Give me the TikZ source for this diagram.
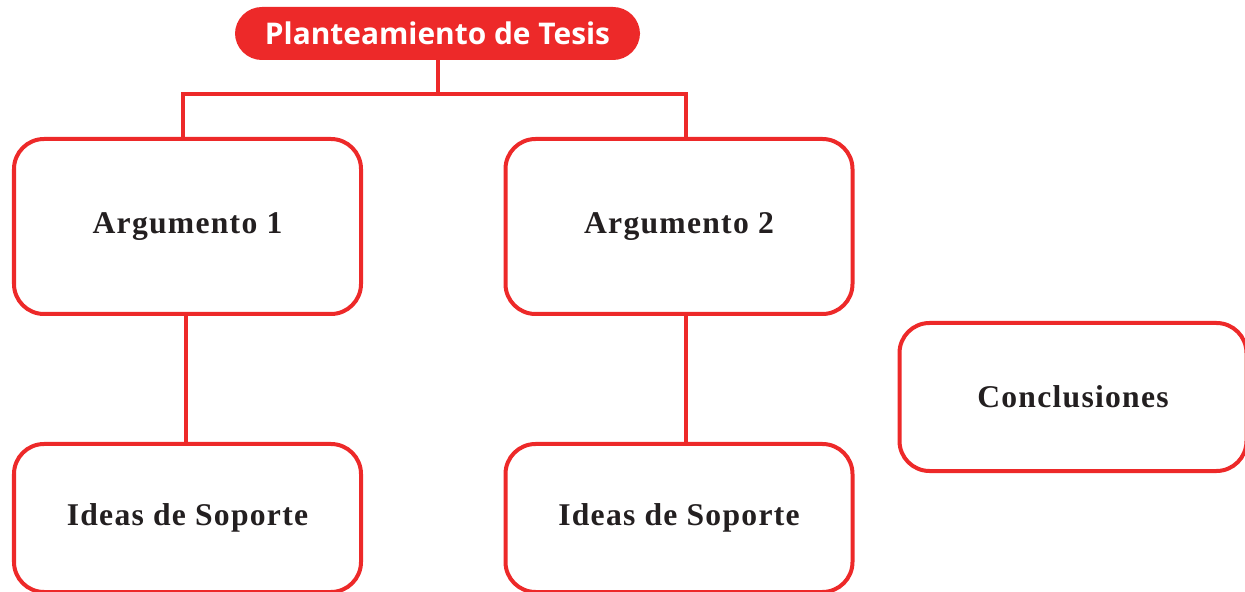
\documentclass[tikz,border=0pt]{standalone}
\usepackage{fontspec}
\setmainfont{Liberation Serif}
\newfontfamily\titlefont{Open Sans}
\newfontfamily\boxfont[LetterSpace=4]{Liberation Serif}
\usetikzlibrary{positioning}
\definecolor{tesisred}{RGB}{237,41,41}
\definecolor{boxtext}{RGB}{35,31,32}

\begin{document}
\begin{tikzpicture}[auto, node distance=2cm and 2cm, line width=0.08cm]

  % Define styles
  \tikzstyle{title} = [rectangle, rounded corners=0.5cm, minimum width=8.02cm, minimum height=0.98cm, text centered, draw=tesisred, fill=tesisred, text=white, font=\titlefont\bfseries\fontsize{17}{20}\selectfont]
  \tikzstyle{box} = [rectangle, rounded corners=0.6cm, minimum width=6.94cm, minimum height=3.5cm, text centered, draw=tesisred, fill=white, text=boxtext, font=\boxfont\bfseries\fontsize{18}{22}\selectfont]
  \tikzstyle{lowbox} = [box, minimum height=2.96cm]
  \tikzstyle{link} = [draw=tesisred]

  \useasboundingbox (0,0) rectangle (24.9,-11.84);

  % Place nodes
  \node [title] (tesis) at (8.75,-0.67) {Planteamiento de Tesis};
  \node [box] (arg1) at (3.75,-4.53) {Argumento 1};
  \node [box, right of=arg1, node distance=9.83cm] (arg2) {Argumento 2};
  \node [lowbox, below of=arg1, node distance=5.83cm] (ideas1) {Ideas de Soporte};
  \node [lowbox, below of=arg2, node distance=5.83cm] (ideas2) {Ideas de Soporte};
  \node [lowbox] (concl) at (21.46,-7.94) {Conclusiones};

  % Draw edges
  \path [link] (tesis.south) -- ++(0,-0.68) -| ([xshift=-0.09cm]arg1.north);
  \path [link] (tesis.south) -- ++(0,-0.68) -| ([xshift=0.14cm]arg2.north);
  \path [link] ([xshift=-0.03cm]arg1.south) -- ([xshift=-0.03cm]ideas1.north);
  \path [link] ([xshift=0.14cm]arg2.south) -- ([xshift=0.14cm]ideas2.north);

\end{tikzpicture}
\end{document}
